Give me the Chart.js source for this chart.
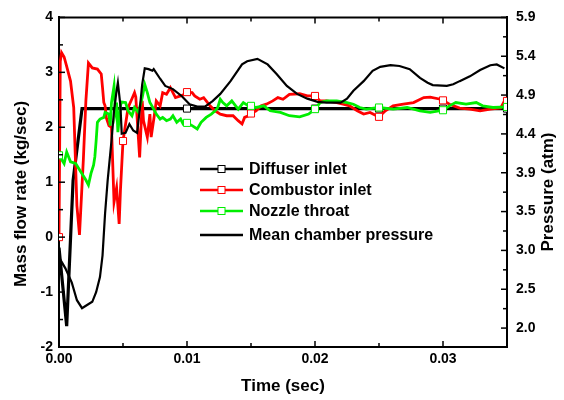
<!DOCTYPE html>
<html>
<head>
<meta charset="utf-8">
<script src="https://cdn.jsdelivr.net/npm/chart.js@4.4.1/dist/chart.umd.min.js"></script>
<style>
  html, body { margin: 0; padding: 0; background: #fff; }
</style>
</head>
<body>
<canvas id="flowChart" width="564" height="400"></canvas>
<script>
// Diffuser inlet mass flow (kg/sec)
const diffuserTime = [0, 0.0006, 0.0011, 0.0018, 0.005, 0.01, 0.015, 0.02, 0.025, 0.03, 0.035];
const diffuserFlow = [-0.19, -1.62, 1.03, 2.34, 2.34, 2.34, 2.34, 2.34, 2.34, 2.34, 2.34];

// Combustor inlet mass flow (kg/sec)
const combustorTime = [0, 0.0001, 0.0002, 0.0004, 0.0006, 0.0009, 0.00115, 0.0014, 0.0016, 0.0019, 0.0021,
  0.0023, 0.0026, 0.003, 0.0033, 0.0034, 0.0035, 0.0036, 0.0037, 0.0039, 0.0041, 0.0043, 0.0045, 0.0047,
  0.0048, 0.005, 0.0054, 0.0057, 0.0059, 0.006, 0.0063, 0.0065, 0.0066, 0.0069, 0.0071, 0.0072, 0.0075,
  0.0076, 0.0079, 0.0081, 0.0084, 0.0087, 0.0091, 0.0095, 0.0098, 0.01, 0.0104, 0.0106, 0.011, 0.0113,
  0.0115, 0.0118, 0.0122, 0.0126, 0.0131, 0.0136, 0.014, 0.0143, 0.0145, 0.0148, 0.015, 0.0154, 0.0158,
  0.0162, 0.0167, 0.0171, 0.0175, 0.018, 0.0188, 0.0194, 0.02, 0.0204, 0.0209, 0.0217, 0.0222, 0.0227,
  0.0233, 0.0238, 0.0243, 0.0248, 0.025, 0.0255, 0.0261, 0.0269, 0.0277, 0.0285, 0.029, 0.0298, 0.03,
  0.0305, 0.0313, 0.0321, 0.0329, 0.0337, 0.0345, 0.0348, 0.035];
const combustorFlow = [0, 3.2, 3.36, 3.28, 3.11, 2.84, 2.36, 0.57, 0.04, 1.4, 2.48,
  3.17, 3.08, 3.06, 2.97, 2.72, 2.45, 2.39, 2.17, 2.03, 2.0, 0.64, 0.9, 0.24,
  0.85, 1.75, 2.36, 2.52, 2.63, 2.55, 1.45, 2.48, 2.12, 1.82, 2.24, 1.82, 2.3,
  2.48, 2.39, 2.63, 2.6, 2.72, 2.54, 2.57, 2.6, 2.64, 2.63, 2.57, 2.51, 2.54,
  2.48, 2.39, 2.3, 2.24, 2.21, 2.21, 2.12, 2.06, 2.18, 2.21, 2.25, 2.3, 2.39,
  2.42, 2.48, 2.54, 2.51, 2.6, 2.61, 2.57, 2.57, 2.48, 2.48, 2.45, 2.42, 2.39,
  2.3, 2.24, 2.27, 2.21, 2.19, 2.3, 2.39, 2.42, 2.45, 2.54, 2.55, 2.51, 2.49,
  2.42, 2.35, 2.33, 2.3, 2.33, 2.35, 2.48, 2.48];

// Nozzle throat mass flow (kg/sec)
const nozzleTime = [0, 0.0004, 0.0006, 0.0009, 0.0013, 0.0017, 0.0021, 0.0023, 0.0025, 0.0027, 0.0028,
  0.0029, 0.003, 0.0032, 0.0035, 0.0036, 0.0039, 0.004, 0.0041, 0.0043, 0.0044, 0.0045, 0.0046, 0.0048,
  0.0049, 0.0052, 0.0054, 0.0057, 0.0059, 0.0062, 0.0065, 0.0067, 0.0069, 0.0071, 0.0074, 0.0076, 0.0079,
  0.0081, 0.0084, 0.0087, 0.0089, 0.0092, 0.0095, 0.0097, 0.01, 0.0104, 0.0108, 0.0111, 0.0115, 0.0119,
  0.0122, 0.0124, 0.0126, 0.0128, 0.0131, 0.0135, 0.0138, 0.014, 0.0144, 0.0148, 0.015, 0.0154, 0.016,
  0.0165, 0.0173, 0.018, 0.0188, 0.0195, 0.02, 0.0204, 0.0209, 0.0217, 0.0225, 0.023, 0.0235, 0.024,
  0.025, 0.0261, 0.0272, 0.0282, 0.029, 0.03, 0.0305, 0.031, 0.0318, 0.0326, 0.0331, 0.0339, 0.035];
const nozzleFlow = [1.49, 1.34, 1.55, 1.37, 1.34, 1.19, 1.04, 0.95, 1.16, 1.31, 1.46,
  1.75, 2.09, 2.15, 2.18, 2.27, 2.24, 2.03, 2.45, 2.75, 2.3, 2.45, 1.91, 2.4,
  2.46, 2.45, 2.3, 2.21, 2.36, 2.27, 2.54, 2.78, 2.63, 2.45, 2.33, 2.24, 2.15,
  2.18, 2.12, 2.15, 2.21, 2.09, 2.15, 2.06, 2.08, 2.03, 1.97, 2.09, 2.18, 2.24,
  2.3, 2.36, 2.51, 2.45, 2.39, 2.48, 2.39, 2.33, 2.45, 2.39, 2.39, 2.36, 2.39,
  2.3, 2.27, 2.21, 2.19, 2.24, 2.33, 2.45, 2.48, 2.48, 2.45, 2.42, 2.36, 2.33,
  2.36, 2.33, 2.36, 2.3, 2.27, 2.31, 2.39, 2.45, 2.42, 2.45, 2.39, 2.36, 2.37];

// Mean chamber pressure (atm)
const pressureTime = [0, 0.0005, 0.001, 0.0014, 0.0018, 0.0021, 0.0026, 0.0029, 0.0032, 0.0034, 0.0036,
  0.0038, 0.0041, 0.0043, 0.0045, 0.0046, 0.0048, 0.0049, 0.0052, 0.0055, 0.0058, 0.0061, 0.0063, 0.0065,
  0.0067, 0.007, 0.0073, 0.0074, 0.0079, 0.0083, 0.0089, 0.0096, 0.0102, 0.0108, 0.0114, 0.012, 0.0126,
  0.0134, 0.0143, 0.0147, 0.0155, 0.0163, 0.017, 0.0178, 0.0186, 0.0194, 0.0202, 0.0209, 0.022, 0.0225,
  0.023, 0.0238, 0.0245, 0.0251, 0.0259, 0.0266, 0.0274, 0.0282, 0.0288, 0.0292, 0.0303, 0.0308, 0.0313,
  0.0321, 0.0329, 0.0337, 0.0342, 0.0348];
const pressureAtm = [2.89, 2.75, 2.57, 2.35, 2.25, 2.28, 2.33, 2.45, 2.64, 2.91, 3.44,
  3.85, 4.35, 4.73, 4.98, 5.08, 4.79, 4.44, 4.45, 4.56, 4.48, 4.45, 4.73, 5.06,
  5.26, 5.25, 5.23, 5.25, 5.13, 5.04, 5.0, 4.91, 4.81, 4.78, 4.78, 4.85, 4.94,
  5.1, 5.31, 5.35, 5.38, 5.31, 5.19, 5.04, 4.94, 4.88, 4.84, 4.83, 4.83, 4.88,
  4.98, 5.1, 5.23, 5.28, 5.3, 5.29, 5.25, 5.14, 5.08, 5.05, 5.04, 5.06, 5.1,
  5.16, 5.24, 5.3, 5.31, 5.26];

// symbol positions (sec) and axis ticks
const diffuserMarks = [0.01, 0.015, 0.02, 0.025, 0.03, 0.035];
const combustorMarks = [0, 0.005, 0.01, 0.015, 0.02, 0.025, 0.03, 0.035];
const nozzleMarks = [0, 0.01, 0.015, 0.02, 0.025, 0.03, 0.035];
const timeTicks = [0, 0.01, 0.02, 0.03];
const flowTicks = [-2, -1, 0, 1, 2, 3, 4];
const pressureTicks = [5.9, 5.4125, 4.925, 4.4375, 3.95, 3.4625, 2.975, 2.4875, 2.0];
const pressureLabels = ['5.9', '5.4', '4.9', '4.4', '3.9', '3.5', '3.0', '2.5', '2.0'];

const FONT = "'Liberation Sans', Arial, sans-serif";

function toPoints(times, values) {
  return times.map((t, i) => ({ x: t, y: values[i] }));
}

function markerRadius(marks) {
  return ctx => {
    const p = ctx.raw;
    if (!p) return 0;
    return marks.some(m => Math.abs(m - p.x) < 1e-7) ? 5 : 0;
  };
}

// inward ticks on all four sides, top frame line, axis titles, legend
const framePlugin = {
  id: 'framePlugin',
  afterDraw(chart) {
    const { ctx, chartArea: a, scales } = chart;
    const x = scales.x, yl = scales.yFlow, yr = scales.yPressure;
    ctx.save();
    ctx.strokeStyle = '#000';
    ctx.lineWidth = 2;
    ctx.beginPath();
    ctx.moveTo(a.left - 1, a.top);
    ctx.lineTo(a.right + 1, a.top);
    ctx.stroke();

    ctx.lineWidth = 1.5;
    function seg(x1, y1, x2, y2) {
      ctx.beginPath(); ctx.moveTo(x1, y1); ctx.lineTo(x2, y2); ctx.stroke();
    }
    // x ticks (bottom + top)
    for (let t = 0; t <= 0.0351; t += 0.005) {
      const px = x.getPixelForValue(t);
      const major = Math.abs(t / 0.01 - Math.round(t / 0.01)) < 1e-6;
      const len = major ? 6 : 4;
      seg(px, a.bottom, px, a.bottom - len);
      seg(px, a.top, px, a.top + len);
    }
    // left ticks
    for (let v = -2; v <= 4.01; v += 0.5) {
      const py = yl.getPixelForValue(v);
      const len = Number.isInteger(v) ? 6 : 4;
      seg(a.left, py, a.left + len, py);
    }
    // right ticks
    pressureTicks.forEach((v, i) => {
      const py = yr.getPixelForValue(v);
      seg(a.right, py, a.right - 6, py);
      if (i < pressureTicks.length - 1) {
        const mid = yr.getPixelForValue((v + pressureTicks[i + 1]) / 2);
        seg(a.right, mid, a.right - 4, mid);
      }
    });

    // axis titles
    ctx.fillStyle = '#000';
    ctx.font = 'bold 17px ' + FONT;
    ctx.textAlign = 'center';
    ctx.textBaseline = 'middle';
    ctx.fillText('Time (sec)', (a.left + a.right) / 2, 386);
    ctx.save();
    ctx.translate(21, 194);
    ctx.rotate(-Math.PI / 2);
    ctx.fillText('Mass flow rate (kg/sec)', 0, 0);
    ctx.restore();
    ctx.save();
    ctx.translate(548, 192);
    ctx.rotate(-Math.PI / 2);
    ctx.fillText('Pressure (atm)', 0, 0);
    ctx.restore();

    // legend
    const rows = [169, 190, 211, 235];
    ctx.font = 'bold 16px ' + FONT;
    ctx.textAlign = 'left';
    chart.data.datasets.forEach((ds, i) => {
      const y = rows[i];
      ctx.strokeStyle = ds.borderColor;
      ctx.lineWidth = 2.5;
      seg(200, y, 243, y);
      if (ds.showMarker) {
        ctx.fillStyle = '#fff';
        ctx.lineWidth = 1;
        ctx.fillRect(218, y - 3.5, 7, 7);
        ctx.strokeRect(218, y - 3.5, 7, 7);
      }
      ctx.fillStyle = '#000';
      ctx.fillText(ds.label, 249, y + 1);
    });
    ctx.restore();
  }
};

const flowCtx = document.getElementById('flowChart').getContext('2d');

const chart = new Chart(flowCtx, {
  type: 'scatter',
  data: {
    datasets: [
      {
        label: 'Diffuser inlet',
        data: toPoints(diffuserTime, diffuserFlow),
        yAxisID: 'yFlow',
        showLine: true,
        showMarker: true,
        borderColor: '#000000',
        borderWidth: 3.2,
        pointStyle: 'rect',
        pointRadius: markerRadius(diffuserMarks),
        pointBackgroundColor: '#ffffff',
        pointBorderColor: '#000000',
        pointBorderWidth: 1,
        order: 4
      },
      {
        label: 'Combustor inlet',
        data: toPoints(combustorTime, combustorFlow),
        yAxisID: 'yFlow',
        showLine: true,
        showMarker: true,
        borderColor: '#ff0000',
        borderWidth: 2.8,
        pointStyle: 'rect',
        pointRadius: markerRadius(combustorMarks),
        pointBackgroundColor: '#ffffff',
        pointBorderColor: '#ff0000',
        pointBorderWidth: 1,
        order: 3
      },
      {
        label: 'Nozzle throat',
        data: toPoints(nozzleTime, nozzleFlow),
        yAxisID: 'yFlow',
        showLine: true,
        showMarker: true,
        borderColor: '#00ee00',
        borderWidth: 2.8,
        pointStyle: 'rect',
        pointRadius: markerRadius(nozzleMarks),
        pointBackgroundColor: '#ffffff',
        pointBorderColor: '#00ee00',
        pointBorderWidth: 1,
        order: 2
      },
      {
        label: 'Mean chamber pressure',
        data: toPoints(pressureTime, pressureAtm),
        yAxisID: 'yPressure',
        showLine: true,
        showMarker: false,
        borderColor: '#000000',
        borderWidth: 2.2,
        pointRadius: 0,
        order: 1
      }
    ]
  },
  options: {
    responsive: false,
    animation: false,
    layout: { padding: { top: 16, left: 0, right: 0, bottom: 0 } },
    plugins: { legend: { display: false }, tooltip: { enabled: false } },
    elements: { line: { tension: 0 } },
    scales: {
      x: {
        type: 'linear',
        position: 'bottom',
        min: 0,
        max: 0.035,
        afterBuildTicks: scale => { scale.ticks = timeTicks.map(v => ({ value: v })); },
        afterFit: scale => { scale.height = 53; },
        grid: { display: false, drawTicks: false },
        border: { display: true, color: '#000', width: 2 },
        ticks: {
          padding: 4,
          color: '#000',
          font: { family: FONT, size: 14, weight: 'bold' },
          callback: v => v.toFixed(2)
        }
      },
      yFlow: {
        type: 'linear',
        position: 'left',
        min: -2,
        max: 4,
        afterBuildTicks: scale => { scale.ticks = flowTicks.map(v => ({ value: v })); },
        afterFit: scale => { scale.width = 59; },
        grid: { display: false, drawTicks: false },
        border: { display: true, color: '#000', width: 2 },
        ticks: {
          padding: 6,
          color: '#000',
          font: { family: FONT, size: 14, weight: 'bold' },
          callback: v => String(v)
        }
      },
      yPressure: {
        type: 'linear',
        position: 'right',
        min: 1.7625,
        max: 5.9,
        afterBuildTicks: scale => { scale.ticks = pressureTicks.map(v => ({ value: v })); },
        afterFit: scale => { scale.width = 57; },
        grid: { display: false, drawTicks: false },
        border: { display: true, color: '#000', width: 2 },
        ticks: {
          padding: 9,
          color: '#000',
          font: { family: FONT, size: 14, weight: 'bold' },
          callback: (v, i) => pressureLabels[i]
        }
      }
    }
  },
  plugins: [framePlugin]
});
</script>
</body>
</html>
